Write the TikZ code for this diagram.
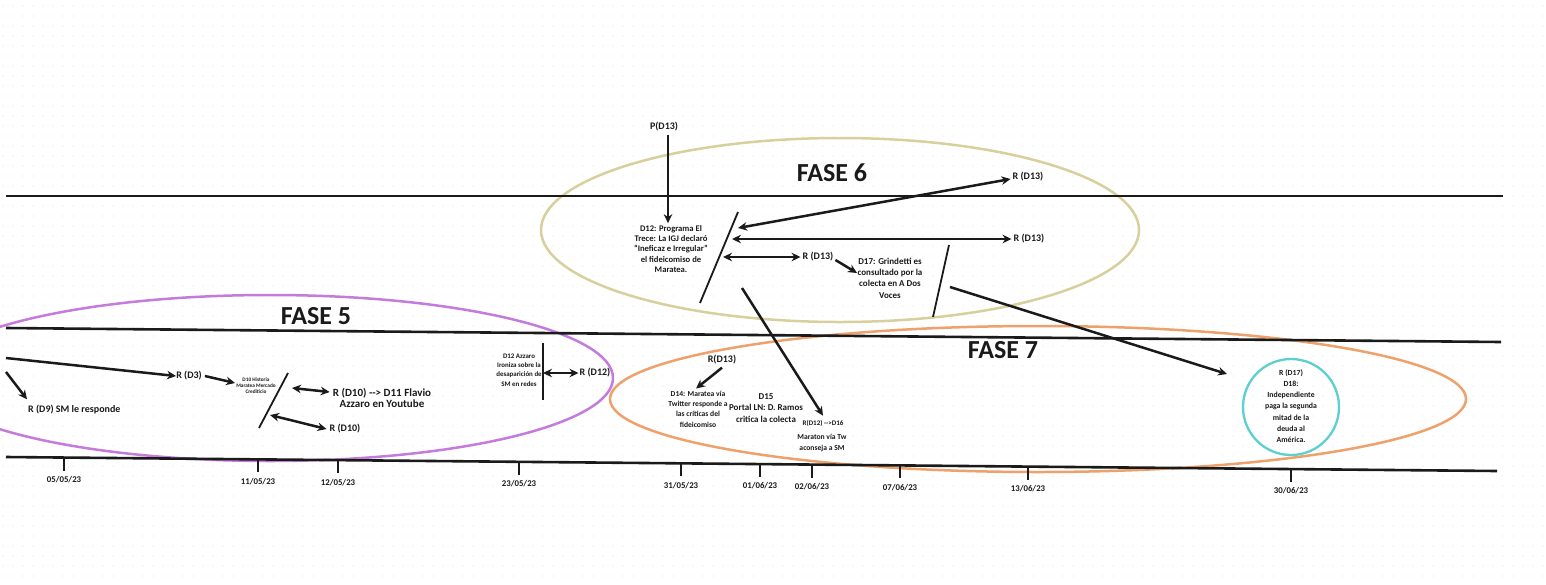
\documentclass[tikz,border=0pt]{standalone}
\usepackage{fontspec}
\setmainfont{Carlito}
\usetikzlibrary{arrows.meta}
\definecolor{ink}{HTML}{1A1A1A}
\definecolor{fpurple}{HTML}{C57BDB}
\definecolor{fkhaki}{HTML}{D8D09C}
\definecolor{forange}{HTML}{EFA16B}
\definecolor{fteal}{HTML}{5CCFD0}
\tikzset{
  lbl/.style={font=\bfseries\fontsize{10}{12}\selectfont, inner sep=0pt, text=ink, align=center},
  txt/.style={font=\bfseries\fontsize{7.6}{10.4}\selectfont, inner sep=0pt, text=ink, align=center},
  tinytxt/.style={font=\bfseries\fontsize{5.3}{5.9}\selectfont, inner sep=0pt, text=ink, align=center},
  smalltxt/.style={font=\bfseries\fontsize{6.9}{9.4}\selectfont, inner sep=0pt, text=ink, align=center},
  fasetxt/.style={font=\bfseries\fontsize{26}{30}\selectfont, inner sep=0pt, text=ink},
  datetxt/.style={font=\bfseries\fontsize{8.8}{10}\selectfont, inner sep=0pt, text=ink},
  arr/.style={line width=2.5pt, draw=ink, -{Stealth[length=9pt,width=8.5pt]}},
  darr/.style={line width=2.5pt, draw=ink, {Stealth[length=9pt,width=8.5pt]}-{Stealth[length=9pt,width=8.5pt]}},
  slashline/.style={line width=1.8pt, draw=ink},
  mainline/.style={line width=2.6pt, draw=ink},
  tickline/.style={line width=1.8pt, draw=ink},
  phase/.style={line width=2.5pt},
}
\begin{document}
\begin{tikzpicture}[x=1pt,y=-1pt]
\useasboundingbox (0,0) rectangle (1546,584);
\fill[white] (0,0) rectangle (1546,584);
% faint dotted grid
\foreach \yy in {6,16,...,584}
  \draw[black!10, line width=1.4pt, line cap=round, dash pattern=on 0pt off 10pt] (3,\yy) -- (1546,\yy);

% phase ellipses
\draw[phase, draw=fpurple] (270,378) ellipse [x radius=343, y radius=83];
\draw[phase, draw=fkhaki] (840,230) ellipse [x radius=299, y radius=92];
\draw[phase, draw=forange] (1038,399) ellipse [x radius=428, y radius=73];
\node[circle, draw=fteal, line width=2.3pt, minimum size=96pt, inner sep=0pt] (circ) at (1291,407) {};

% horizontal lines
\coordinate (top1) at (6,196); \coordinate (top2) at (1503,196);
\coordinate (mid1) at (6,328); \coordinate (mid2) at (1501,342);
\coordinate (bot1) at (6,457); \coordinate (bot2) at (1497,471);
\draw[mainline] (top1) -- (top2);
\draw[mainline] (mid1) -- (mid2);
\draw[mainline] (bot1) -- (bot2);

% phase titles
\node[fasetxt] (f5) at (316,316) {FASE 5};
\node[fasetxt] (f6) at (832,173) {FASE 6};
\node[fasetxt] (f7) at (1003,350) {FASE 7};

% timeline ticks and dates
\foreach \x/\d [count=\i] in {64/05\slash 05\slash 23, 258/11\slash 05\slash 23, 338/12\slash 05\slash 23, 519/23\slash 05\slash 23, 681/31\slash 05\slash 23, 760/01\slash 06\slash 23, 812/02\slash 06\slash 23, 900/07\slash 06\slash 23, 1028/13\slash 06\slash 23, 1291/30\slash 06\slash 23}{
  \pgfmathsetmacro{\yl}{457+0.00939*(\x-6)}
  \coordinate (tk\i) at (\x,\yl);
  \coordinate (tkb\i) at (\x,\yl+13);
  \draw[tickline] (tk\i) -- (tkb\i);
  \node[datetxt] (date\i) at (\x,\yl+22) {\d};
}

% ---------- FASE 5 ----------
\coordinate (e1) at (6,358);
\coordinate (e2) at (6,372);
\node[lbl] (rd3) at (189,376) {R (D3)};
\node[lbl, anchor=west] (rd9) at (28,410) {R (D9) SM le responde};
\draw[arr] (e1) -- (rd3.west);
\draw[arr] (e2) -- ([xshift=-1pt,yshift=6pt]rd9.north west);

\node[tinytxt] (d10) at (256,386) {D10 Historia\\Maratea Mercado\\Crediticio};
\draw[arr] ([xshift=3pt]rd3.east) -- ([xshift=-1pt,yshift=3pt]d10.west);

\coordinate (s1a) at (288,373); \coordinate (s1b) at (259,428);
\draw[slashline] (s1a) -- (s1b);
\coordinate (s1u) at (292,388);
\coordinate (s1l) at (270,415);
\node[lbl, font=\bfseries\fontsize{11}{11.5}\selectfont] (rd10a) at (382,398) {R (D10) -{}-> D11 Flavio\\Azzaro en Youtube};
\node[lbl] (rd10b) at (345,429) {R (D10)};
\draw[darr] (s1u) -- ([xshift=-3pt,yshift=6pt]rd10a.west);
\draw[darr] (s1l) -- ([xshift=-3pt]rd10b.west);

\node[smalltxt] (d12a) at (519,370) {D12 Azzaro\\Ironiza sobre la\\desaparición de\\SM en redes};
\coordinate (v1a) at (543,343); \coordinate (v1b) at (543,400);
\draw[slashline] (v1a) -- (v1b);
\node[lbl] (rd12) at (595,373) {R (D12)};
\draw[darr] (543,373) -- ([xshift=-1pt]rd12.west);

% ---------- FASE 6 ----------
\node[lbl] (pd13) at (664,127) {P(D13)};
\node[txt, font=\bfseries\fontsize{8.6}{10.3}\selectfont] (d12p) at (671,249) {D12: Programa El\\Trece: La IGJ declaró\\“Ineficaz e Irregular”\\el fideicomiso de\\Maratea.};
\draw[arr] ([xshift=4pt,yshift=-3pt]pd13.south) -- ([xshift=-3pt,yshift=2pt]d12p.north);

\coordinate (s2a) at (738,212); \coordinate (s2b) at (700,303);
\draw[slashline] (s2a) -- (s2b);
\node[lbl] (r13a) at (1028,177) {R (D13)};
\node[lbl] (r13b) at (1029,239) {R (D13)};
\node[lbl] (r13c) at (818,257) {R (D13)};
\coordinate (p1) at (738,228);
\coordinate (p2) at (732,239);
\coordinate (p3) at (723,257);
\draw[darr] (p1) -- ([xshift=-2pt,yshift=-2pt]r13a.west);
\draw[darr] (p2) -- ([xshift=-2pt]r13b.west);
\draw[darr] (p3) -- ([xshift=-2pt]r13c.west);

\node[txt, font=\bfseries\fontsize{9}{11.3}\selectfont] (d17) at (890,278) {D17: Grindetti es\\consultado por la\\colecta en A Dos\\Voces};
\coordinate (d17in) at (857,273);
\draw[arr] ([xshift=2pt,yshift=-3pt]r13c.east) -- (d17in);

\coordinate (s3a) at (949,245); \coordinate (s3b) at (933,317);
\draw[slashline] (s3a) -- (s3b);

\coordinate (q1) at (742,288);
\coordinate (q2) at (950,287);

% ---------- FASE 7 ----------
\node[lbl] (r13d) at (722,360) {R(D13)};
\node[txt] (d14) at (698,409) {D14: Maratea vía\\Twitter responde a\\las críticas del\\fideicomiso};
\draw[arr] ([yshift=-3pt]r13d.south) -- ([xshift=-2pt,yshift=2pt]d14.north);

\node[txt, font=\bfseries\fontsize{9}{11.5}\selectfont] (d15) at (766,408) {D15\\Portal LN: D. Ramos\\critica la colecta};

\node[txt, font=\bfseries\fontsize{7}{8}\selectfont] (rd16) at (823,423) {R(D12) -{}->D16};
\node[txt, font=\bfseries\fontsize{7.6}{10.5}\selectfont] (mar) at (822,443) {Maraton vía Tw\\aconseja a SM};
\draw[arr] (q1) -- ([yshift=4pt]rd16.north);

\node[txt, font=\bfseries\fontsize{7.8}{11.2}\selectfont] (d18) at (1291,406) {R (D17)\\D18:\\Independiente\\paga la segunda\\mitad de la\\deuda al\\América.};
\coordinate (circin) at (1227,374);
\draw[arr] (q2) -- (circin);

\end{tikzpicture}
\end{document}
